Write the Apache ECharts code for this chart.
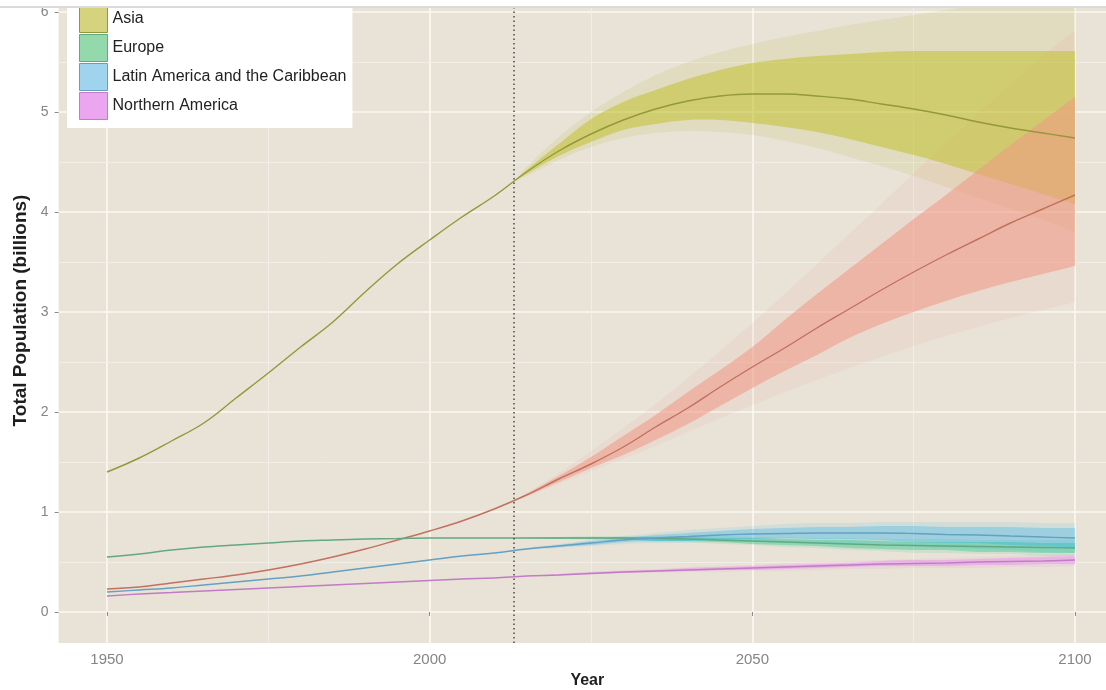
<!DOCTYPE html>
<html><head><meta charset="utf-8">
<script src="https://cdn.jsdelivr.net/npm/echarts@6/dist/echarts.min.js"></script>
<style>html,body{margin:0;padding:0;background:#fff}#c{width:1106px;height:690px}</style>
</head><body><div id="c"></div>
<script>
// ---------- data ----------
const legendNames = ['Asia', 'Europe', 'Latin America and the Caribbean', 'Northern America'];
const xTicks = [1950, 2000, 2050, 2100];
const yTicks = [0, 1, 2, 3, 4, 5, 6];
const minorX = [1975, 2025, 2075];
const minorY = [0.5, 1.5, 2.5, 3.5, 4.5, 5.5];
const baseYear = 2013;

const lineYears = [1950,1955,1960,1965,1970,1975,1980,1985,1990,1995,2000,2005,2010,2015,2020,2025,2030,2035,2040,2045,2050,2055,2060,2065,2070,2075,2080,2085,2090,2095,2100];
const africaLine = [0.23,0.25,0.29,0.33,0.37,0.42,0.48,0.55,0.63,0.72,0.81,0.91,1.03,1.17,1.33,1.48,1.65,1.85,2.04,2.25,2.45,2.64,2.84,3.03,3.22,3.40,3.57,3.73,3.89,4.03,4.17];
const asiaLine = [1.40,1.54,1.71,1.89,2.14,2.39,2.65,2.90,3.20,3.48,3.72,3.95,4.16,4.40,4.61,4.78,4.92,5.03,5.11,5.16,5.18,5.18,5.16,5.13,5.08,5.03,4.97,4.90,4.84,4.79,4.74];
const europeLine = [0.55,0.58,0.62,0.65,0.67,0.69,0.71,0.72,0.73,0.735,0.74,0.74,0.74,0.74,0.74,0.74,0.74,0.735,0.73,0.72,0.71,0.70,0.69,0.68,0.67,0.665,0.66,0.655,0.65,0.645,0.64];
const latinLine = [0.20,0.22,0.24,0.27,0.30,0.33,0.36,0.40,0.44,0.48,0.52,0.56,0.59,0.63,0.66,0.69,0.72,0.74,0.755,0.77,0.78,0.785,0.79,0.79,0.79,0.785,0.775,0.77,0.76,0.75,0.74];
const naLine = [0.16,0.18,0.195,0.21,0.225,0.24,0.255,0.27,0.285,0.30,0.315,0.33,0.34,0.36,0.37,0.385,0.40,0.41,0.42,0.43,0.44,0.45,0.46,0.47,0.48,0.485,0.49,0.50,0.505,0.51,0.52];

const bandYears = [2013,2015,2020,2025,2030,2035,2040,2045,2050,2055,2060,2065,2070,2075,2080,2085,2090,2095,2100];
const asia80Hi = [4.30,4.42,4.68,4.93,5.10,5.22,5.33,5.42,5.49,5.53,5.56,5.58,5.60,5.61,5.61,5.61,5.61,5.61,5.61];
const asia80Lo = [4.30,4.38,4.56,4.70,4.82,4.88,4.92,4.92,4.89,4.85,4.80,4.73,4.65,4.57,4.48,4.38,4.28,4.18,4.08];
const asia95Hi = [4.30,4.45,4.75,5.00,5.20,5.37,5.50,5.60,5.68,5.75,5.81,5.87,5.92,5.97,6.02,6.07,6.12,6.16,6.20];
const asia95Lo = [4.30,4.36,4.52,4.65,4.74,4.79,4.81,4.80,4.77,4.71,4.64,4.55,4.46,4.36,4.25,4.14,4.03,3.92,3.80];
const africa80Hi = [1.11,1.18,1.36,1.55,1.76,1.97,2.20,2.42,2.65,2.92,3.18,3.43,3.68,3.93,4.17,4.42,4.67,4.91,5.15];
const africa80Lo = [1.11,1.16,1.30,1.44,1.57,1.72,1.88,2.06,2.24,2.41,2.57,2.74,2.88,3.00,3.11,3.21,3.30,3.38,3.46];
const africa95Hi = [1.11,1.19,1.39,1.61,1.84,2.08,2.34,2.61,2.89,3.18,3.48,3.78,4.08,4.39,4.69,4.99,5.28,5.56,5.82];
const africa95Lo = [1.11,1.15,1.28,1.41,1.53,1.66,1.80,1.94,2.07,2.20,2.32,2.44,2.55,2.66,2.76,2.85,2.94,3.02,3.10];
const europe80Hi = [0.74,0.74,0.75,0.75,0.75,0.75,0.75,0.74,0.74,0.73,0.72,0.72,0.71,0.70,0.70,0.70,0.70,0.69,0.69];
const europe80Lo = [0.74,0.74,0.73,0.73,0.73,0.71,0.71,0.70,0.68,0.67,0.66,0.64,0.63,0.62,0.62,0.60,0.60,0.59,0.59];
const europe95Hi = [0.74,0.75,0.75,0.76,0.76,0.76,0.76,0.76,0.75,0.75,0.74,0.74,0.73,0.73,0.73,0.72,0.72,0.72,0.72];
const europe95Lo = [0.74,0.73,0.73,0.72,0.72,0.70,0.70,0.68,0.67,0.65,0.64,0.62,0.61,0.59,0.59,0.58,0.58,0.56,0.56];
const latin80Hi = [0.61,0.63,0.67,0.71,0.74,0.77,0.79,0.81,0.83,0.84,0.85,0.85,0.86,0.86,0.85,0.85,0.85,0.84,0.84];
const latin80Lo = [0.61,0.63,0.65,0.67,0.70,0.71,0.71,0.73,0.73,0.74,0.73,0.73,0.72,0.70,0.69,0.69,0.67,0.66,0.64];
const latin95Hi = [0.61,0.64,0.68,0.72,0.76,0.79,0.82,0.84,0.86,0.88,0.89,0.89,0.90,0.90,0.90,0.90,0.90,0.89,0.89];
const latin95Lo = [0.61,0.62,0.64,0.66,0.68,0.69,0.69,0.70,0.70,0.70,0.69,0.68,0.67,0.66,0.64,0.63,0.62,0.60,0.59];
const na80Hi = [0.35,0.36,0.38,0.40,0.41,0.42,0.44,0.45,0.46,0.47,0.48,0.49,0.51,0.52,0.52,0.53,0.54,0.55,0.56];
const na80Lo = [0.35,0.36,0.37,0.38,0.39,0.40,0.41,0.42,0.42,0.43,0.44,0.45,0.46,0.46,0.46,0.47,0.47,0.48,0.48];
const na95Hi = [0.35,0.36,0.38,0.40,0.42,0.43,0.45,0.46,0.47,0.49,0.50,0.51,0.52,0.53,0.54,0.55,0.56,0.57,0.58];
const na95Lo = [0.35,0.36,0.37,0.38,0.39,0.39,0.40,0.40,0.41,0.41,0.42,0.43,0.43,0.44,0.44,0.44,0.45,0.45,0.46];

// ---------- styles ----------
const FONT = "'Liberation Sans', Arial, sans-serif";
const lightFill = {
  'Africa': 'rgba(248,118,109,0.08)', 'Asia': 'rgba(163,165,0,0.10)', 'Europe': 'rgba(0,191,125,0.10)',
  'Latin America and the Caribbean': 'rgba(0,176,246,0.10)', 'Northern America': 'rgba(231,107,243,0.10)'
};
const darkFill = {
  'Africa': 'rgba(240,152,132,0.55)', 'Asia': 'rgba(192,192,40,0.52)', 'Europe': 'rgba(0,191,125,0.30)',
  'Latin America and the Caribbean': 'rgba(40,176,240,0.30)', 'Northern America': 'rgba(231,107,243,0.30)'
};
const lineColor = {
  'Africa': '#C27060', 'Asia': '#92993A', 'Europe': '#62A880',
  'Latin America and the Caribbean': '#64A0C2', 'Northern America': '#C27BC6'
};
const keyFill = {
  'Asia': '#D6D37E', 'Europe': '#93D9AB', 'Latin America and the Caribbean': '#A0D3EE', 'Northern America': '#EBA6EF'
};

const bands95 = [
  ['Asia', asia95Lo, asia95Hi], ['Africa', africa95Lo, africa95Hi], ['Europe', europe95Lo, europe95Hi],
  ['Latin America and the Caribbean', latin95Lo, latin95Hi], ['Northern America', na95Lo, na95Hi]
];
const bands80 = [
  ['Asia', asia80Lo, asia80Hi], ['Africa', africa80Lo, africa80Hi], ['Europe', europe80Lo, europe80Hi],
  ['Latin America and the Caribbean', latin80Lo, latin80Hi], ['Northern America', na80Lo, na80Hi]
];
const lines = [
  ['Africa', africaLine], ['Asia', asiaLine], ['Europe', europeLine],
  ['Latin America and the Caribbean', latinLine], ['Northern America', naLine]
];

// Catmull-Rom through screen points -> cubic bezier path commands
function crPath(pts, start) {
  let d = start ? `M${pts[0][0]},${pts[0][1]}` : `L${pts[0][0]},${pts[0][1]}`;
  for (let i = 0; i < pts.length - 1; i++) {
    const p0 = pts[Math.max(i - 1, 0)], p1 = pts[i], p2 = pts[i + 1], p3 = pts[Math.min(i + 2, pts.length - 1)];
    const c1 = [p1[0] + (p2[0] - p0[0]) / 6, p1[1] + (p2[1] - p0[1]) / 6];
    const c2 = [p2[0] - (p3[0] - p1[0]) / 6, p2[1] - (p3[1] - p1[1]) / 6];
    d += ` C${c1[0]},${c1[1]} ${c2[0]},${c2[1]} ${p2[0]},${p2[1]}`;
  }
  return d;
}

const series = [];
function addBand(name, lo, hi, fill) {
  series.push({
    type: 'custom', name, silent: true, clip: true, z: 2,
    data: bandYears.map((y, i) => [y, lo[i], hi[i]]),
    encode: { x: 0, y: [1, 2] },
    renderItem: (params, api) => {
      if (params.dataIndex !== 0) return null;
      const top = bandYears.map((y, i) => api.coord([y, hi[i]]));
      const bot = bandYears.map((y, i) => api.coord([y, lo[i]])).reverse();
      const d = crPath(top, true) + ' ' + crPath(bot, false) + ' Z';
      return { type: 'path', shape: { pathData: d }, style: { fill, stroke: null } };
    }
  });
}
bands95.forEach(b => addBand(b[0], b[1], b[2], lightFill[b[0]]));
bands80.forEach(b => addBand(b[0], b[1], b[2], darkFill[b[0]]));
lines.forEach((l, k) => {
  const s = {
    type: 'line', name: l[0], symbol: 'none', smooth: 0.4, z: 3, silent: true,
    lineStyle: { color: lineColor[l[0]], width: 1.4 },
    itemStyle: { color: lineColor[l[0]] },
    data: lineYears.map((y, i) => [y, l[1][i]])
  };
  if (k === 0) {
    s.markLine = {
      silent: true, symbol: ['none', 'none'], label: { show: false }, animation: false, z: 1,
      lineStyle: { color: '#F1EEE5', width: 1, type: 'solid' },
      data: minorX.map(v => ({ xAxis: v })).concat(minorY.map(v => ({ yAxis: v })))
    };
  }
  if (k === 1) {
    s.markLine = {
      silent: true, symbol: ['none', 'none'], label: { show: false }, animation: false, z: 6,
      lineStyle: { color: '#4a4a4a', width: 1.5, type: [1.5, 3] },
      data: [{ xAxis: baseYear }]
    };
  }
  series.push(s);
});

const chart = echarts.init(document.getElementById('c'), null, { renderer: 'canvas' });
chart.setOption({
  animation: false,
  backgroundColor: '#ffffff',
  grid: { left: 58.6, right: 0, top: 8, bottom: 47, show: true, backgroundColor: '#E8E3D6', borderWidth: 0, outerBoundsMode: 'none' },
  xAxis: {
    type: 'value', min: 1942.5, max: 2104.8, splitNumber: 3,
    axisLine: { show: false },
    axisTick: { show: true, length: 4, lineStyle: { color: '#8c8c8c' }, customValues: xTicks },
    axisLabel: { customValues: xTicks, color: '#858585', fontSize: 15, margin: 9, fontFamily: FONT, formatter: v => String(v) },
    splitLine: { show: true, lineStyle: { color: '#FBF9F2', width: 1.6 } },
    name: 'Year', nameLocation: 'middle', nameGap: 30,
    nameTextStyle: { color: '#1e1e1e', fontSize: 16, fontWeight: 'bold', fontFamily: FONT, padding: [0, 0, 0, 10] }
  },
  yAxis: {
    type: 'value', min: -0.31, max: 6.04, splitNumber: 5,
    axisLine: { show: false },
    axisTick: { show: true, length: 4, lineStyle: { color: '#8c8c8c' }, customValues: yTicks },
    axisLabel: { customValues: yTicks, color: '#858585', fontSize: 14, margin: 10, fontFamily: FONT, formatter: v => String(v) },
    splitLine: { show: true, lineStyle: { color: '#FBF9F2', width: 1.6 } },
    name: 'Total Population (billions)', nameLocation: 'middle', nameGap: 22, nameRotate: 90,
    nameTextStyle: { color: '#1e1e1e', fontSize: 19, fontWeight: 'bold', fontFamily: FONT, padding: [0, 0, 0, 30] }
  },
  legend: {
    orient: 'vertical', left: 67, top: 5, padding: [0, 6, 8, 12],
    backgroundColor: '#ffffff', itemWidth: 28, itemHeight: 27, itemGap: 1,
    selectedMode: false,
    textStyle: { color: '#222', fontSize: 16, fontFamily: FONT },
    data: legendNames.map(n => ({
      name: n, icon: 'rect',
      itemStyle: { color: keyFill[n], borderColor: lineColor[n], borderWidth: 1 }
    }))
  },
  graphic: [
    { type: 'rect', z: 100, shape: { x: 0, y: 0, width: 1106, height: 6 }, style: { fill: '#ffffff' } },
    { type: 'rect', z: 100, shape: { x: 0, y: 6, width: 1106, height: 2 }, style: { fill: '#dadada' } }
  ],
  series
});
</script></body></html>
